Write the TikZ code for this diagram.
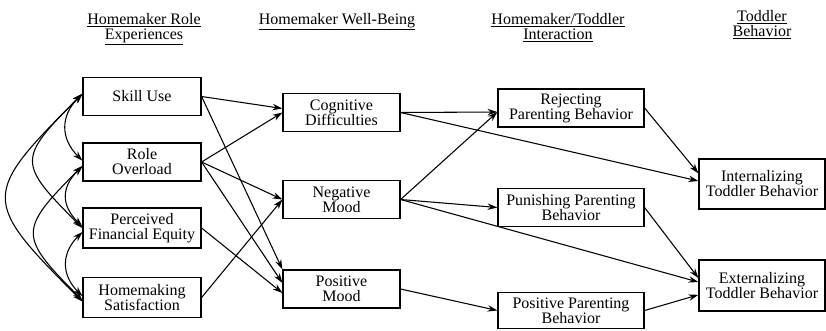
\documentclass[tikz,border=0pt]{standalone}
\usepackage{fontspec}
\setmainfont{Liberation Serif}
\usetikzlibrary{arrows.meta}
\tikzset{
  bloque/.style={
    draw,
    line width=0.9pt,
    align=center,
    inner sep=0pt,
    minimum width=88.5pt,
    minimum height=28.5pt,
    font=\fontsize{12}{11.25}\selectfont
  },
  ancho/.style={
    bloque,
    minimum width=109.5pt
  },
  final/.style={
    bloque,
    minimum width=94.5pt,
    minimum height=37.5pt
  },
  titulo/.style={
    align=center,
    inner sep=0pt,
    anchor=north,
    font=\fontsize{12}{11.25}\selectfont
  },
  arrow/.style={
    -{Stealth[length=2.6mm,width=1.7mm]},
    line width=0.8pt
  },
  doble/.style={
    {Stealth[length=2.6mm,width=1.7mm]}-{Stealth[length=2.6mm,width=1.7mm]},
    line width=0.8pt
  }
}

\begin{document}
\begin{tikzpicture}[x=0.75pt,y=0.75pt]
\useasboundingbox (0,0) rectangle (826,-330);

% column titles
\node[titulo] (t1) at (144,-13) {\underline{Homemaker Role}\\\underline{Experiences}};
\node[titulo] (t2) at (337,-13) {\underline{Homemaker Well-Being}};
\node[titulo] (t3) at (558,-13) {\underline{Homemaker/Toddler}\\\underline{Interaction}};
\node[titulo] (t4) at (762,-10) {\underline{Toddler}\\\underline{Behavior}};

% role experiences
\node[bloque] (skill) at (142,-96.5) {Skill Use};
\node[bloque] (over) at (142,-162) {Role\\Overload};
\node[bloque, minimum height=30pt] (perc) at (142,-228) {Perceived\\Financial Equity};
\node[bloque, minimum height=30.5pt] (home) at (142,-297.5) {Homemaking\\Satisfaction};

% well-being
\node[bloque, minimum width=87.75pt, minimum height=29pt] (cog) at (341.5,-112.5) {Cognitive\\Difficulties};
\node[bloque, minimum width=87.75pt, minimum height=29pt] (neg) at (341.5,-199.5) {Negative\\Mood};
\node[bloque, minimum width=87.75pt] (pos) at (341.5,-289) {Positive\\Mood};

% interaction
\node[ancho] (rej) at (571,-108) {Rejecting\\Parenting Behavior};
\node[ancho, minimum height=29pt] (pun) at (571,-207.5) {Punishing Parenting\\Behavior};
\node[ancho, minimum height=27.5pt] (pospar) at (571,-310.5) {Positive Parenting\\Behavior};

% toddler behavior
\node[final] (int) at (762,-184) {Internalizing\\Toddler Behavior};
\node[final, minimum height=38.25pt] (ext) at (762,-285.5) {Externalizing\\Toddler Behavior};

% correlations
\draw[doble] ([yshift=2pt]skill.west) to[out=225, in=135, looseness=1.2] ([yshift=1pt]over.west);
\draw[doble] ([yshift=2pt]skill.west) to[out=225, in=135, looseness=1.76] (perc.west);
\draw[doble] ([yshift=2pt]skill.west) to[out=225, in=135, looseness=1.77] ([yshift=-3pt]home.west);
\draw[doble] ([yshift=-3pt]over.west) to[out=225, in=135, looseness=1.28] ([yshift=1pt]perc.west);
\draw[doble] ([yshift=-3pt]over.west) to[out=225, in=135, looseness=1.73] ([yshift=-2pt]home.west);
\draw[doble] ([yshift=-3pt]perc.west) to[out=225, in=135, looseness=1.2] ([yshift=1pt]home.west);

% paths to well-being
\draw[arrow] (skill.east) -- ([yshift=3pt]cog.west);
\draw[arrow] (skill.east) -- (pos.north west);
\draw[arrow] (over.east) -- (cog.west);
\draw[arrow] (over.east) -- (neg.west);
\draw[arrow] (over.east) -- ([yshift=4.5pt]pos.west);
\draw[arrow] (perc.east) -- ([yshift=-3pt]pos.west);
\draw[arrow] (home.east) -- (neg.west);

% paths to interaction
\draw[arrow] (cog.east) -- ([yshift=-3pt]rej.west);
\draw[arrow] (neg.east) -- ([yshift=-3pt]rej.west);
\draw[arrow] (neg.east) -- (pun.west);
\draw[arrow] (pos.east) -- (pospar.west);

% paths to toddler behavior
\draw[arrow] (cog.east) -- ([yshift=2.25pt]int.west);
\draw[arrow] (rej.east) -- ([yshift=8pt]int.west);
\draw[arrow] (neg.east) -- ([yshift=2.6pt]ext.west);
\draw[arrow] (pun.east) -- ([yshift=5.6pt]ext.west);
\draw[arrow] (pospar.east) -- ([yshift=-7pt]ext.west);
\end{tikzpicture}
\end{document}
